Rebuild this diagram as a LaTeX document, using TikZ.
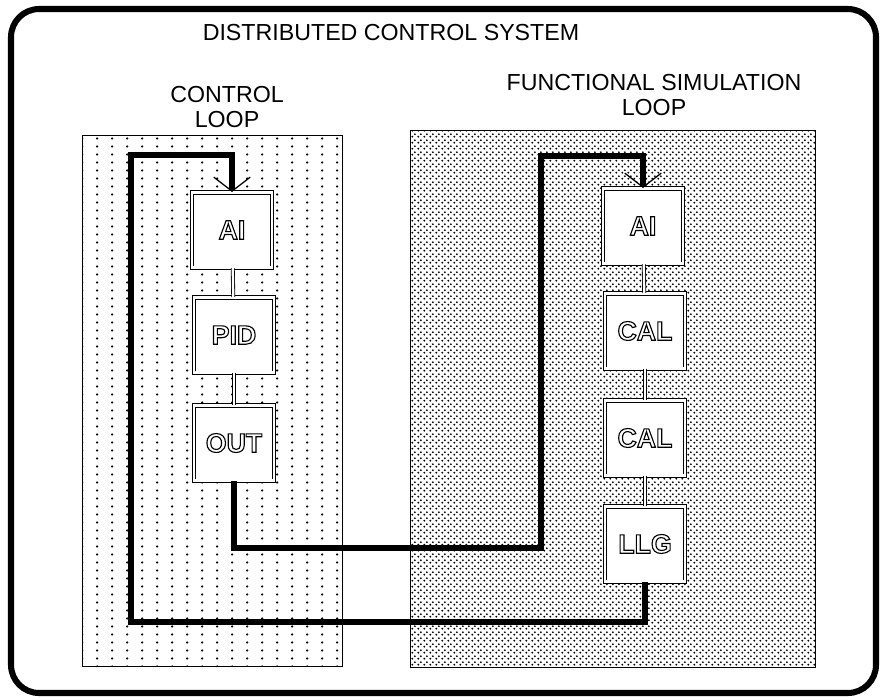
\documentclass[tikz,border=0pt]{standalone}
\usepackage{fontspec}
\setsansfont{Liberation Sans}
\usetikzlibrary{arrows.meta, patterns.meta}
% fill patterns of the two loop panels
\tikzdeclarepattern{name=ctrldots, type=uncolored,
  bounding box={(0pt,0pt) and (10.67pt,5.33pt)}, tile size={(10.67pt,5.33pt)},
  code={\fill (5.33pt,2.67pt) circle (0.95pt);}}
\tikzdeclarepattern{name=simdots, type=uncolored,
  bounding box={(0pt,0pt) and (3.9pt,3.9pt)}, tile size={(3.9pt,3.9pt)},
  code={\fill (0.98pt,0.98pt) circle (0.78pt); \fill (2.93pt,2.93pt) circle (0.78pt);}}
% outlined block labels
\newcommand\hollowtext[1]{\special{pdf:literal direct 1 Tr 0.8 w}#1\special{pdf:literal direct 0 Tr}}
\tikzset{
  outerframe/.style={line width=4.3pt, rounded corners=20pt},
  panelbox/.style={draw, line width=0.7pt},
  blk/.style={rectangle, draw, line width=0.6pt, double, double distance=1.8pt, fill=white,
    minimum width=2.0cm, minimum height=1.88cm, inner sep=0pt,
    font=\sffamily\bfseries\fontsize{19}{20}\selectfont},
  blklink/.style={draw, line width=0.6pt, double, double distance=1.6pt},
  loopline/.style={line width=4.8pt, -{Straight Barb[length=10pt,width=26pt,line width=0.9pt]}},
  captext/.style={font=\sffamily\fontsize{16.5}{18}\selectfont, align=center},
}

\begin{document}
\begin{tikzpicture}[x=0.025cm, y=-0.025cm]
    \useasboundingbox (0,0) rectangle (882,699);
    \draw[outerframe] (11,9) rectangle (876,693);

    % panels
    \draw[panelbox, pattern=ctrldots] (82,135) rectangle (342,666);
    \draw[panelbox, pattern=simdots] (410,130) rectangle (815,667);

    % titles
    \node[captext] (systitle) at (391,33) {DISTRIBUTED CONTROL SYSTEM};
    \node[captext] (ctrltitle) at (227,107) {CONTROL\\LOOP};
    \node[captext] (simtitle) at (654,95) {FUNCTIONAL SIMULATION\\LOOP};

    % control loop blocks
    \node[blk] (ai1) at (232,230) {\hollowtext{AI}};
    \node[blk] (pid) at (234,335) {\hollowtext{PID}};
    \node[blk] (out) at (234,443) {\hollowtext{OUT}};
    \draw[blklink] (ai1) -- (pid);
    \draw[blklink] (pid) -- (out);

    % simulation loop blocks
    \node[blk] (ai2) at (643,226) {\hollowtext{AI}};
    \node[blk] (cal1) at (645,331) {\hollowtext{CAL}};
    \node[blk] (cal2) at (645,438) {\hollowtext{CAL}};
    \node[blk] (llg) at (645,544) {\hollowtext{LLG}};
    \draw[blklink] (ai2) -- (cal1);
    \draw[blklink] (cal1) -- (cal2);
    \draw[blklink] (cal2) -- (llg);

    % signal paths between the loops
    \draw[loopline] (out.south) |- (541,548) -- (541,156) -| (ai2.north);
    \draw[loopline] (llg.south) |- (131,622) -- (131,155) -| (ai1.north);
\end{tikzpicture}
\end{document}
